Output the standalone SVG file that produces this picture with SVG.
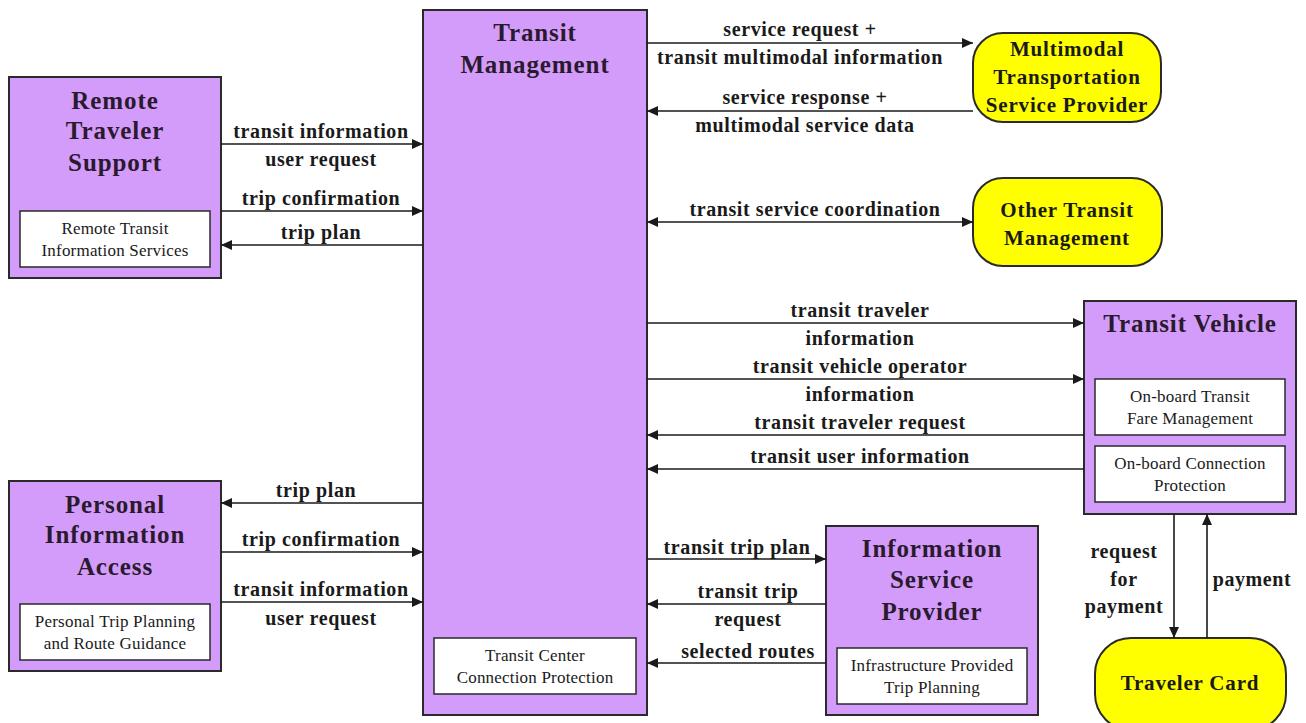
<svg xmlns="http://www.w3.org/2000/svg" width="1306" height="723" viewBox="0 0 1306 723">
<style>
.box{fill:#D49CFA;stroke:#2a2a2a;stroke-width:2}
.ext{fill:#FFFF00;stroke:#2a2a2a;stroke-width:2}
.inner{fill:#ffffff;stroke:#2a2a2a;stroke-width:1.5}
.title{font-family:"Liberation Serif",serif;font-weight:bold;font-size:25px;letter-spacing:0.9px;fill:#2a1a2e;text-anchor:middle}
.etitle{font-family:"Liberation Serif",serif;font-weight:bold;font-size:21px;letter-spacing:0.8px;fill:#1a1a1a;text-anchor:middle}
.sub{font-family:"Liberation Serif",serif;font-size:17px;letter-spacing:0.2px;fill:#1a1a1a;text-anchor:middle}
.lbl{font-family:"Liberation Serif",serif;font-weight:bold;font-size:20px;letter-spacing:0.6px;fill:#1a1a1a;text-anchor:middle}
.c line{stroke:#1a1a1a;stroke-width:1.6}
</style>
<defs>
<marker id="ah" markerUnits="userSpaceOnUse" markerWidth="12" markerHeight="10" refX="11" refY="5" orient="auto-start-reverse">
<path d="M0,0 L11,5 L0,10 Z" fill="#1a1a1a"/>
</marker>
</defs>
<rect width="1306" height="723" fill="#ffffff"/>

<g id="transit-management">
<rect class="box" x="423" y="10" width="224" height="705"/>
<text class="title" x="535" y="41">Transit</text>
<text class="title" x="535" y="73">Management</text>
<rect class="inner" x="434" y="638" width="202" height="56"/>
<text class="sub" x="535" y="661">Transit Center</text>
<text class="sub" x="535" y="683">Connection Protection</text>
</g>

<g id="remote-traveler-support">
<rect class="box" x="9" y="77" width="212" height="201"/>
<text class="title" x="115" y="109">Remote</text>
<text class="title" x="115" y="139">Traveler</text>
<text class="title" x="115" y="171">Support</text>
<rect class="inner" x="20" y="211" width="190" height="56"/>
<text class="sub" x="115" y="234">Remote Transit</text>
<text class="sub" x="115" y="256">Information Services</text>
</g>

<g id="personal-information-access">
<rect class="box" x="9" y="481" width="212" height="190"/>
<text class="title" x="115" y="513">Personal</text>
<text class="title" x="115" y="543">Information</text>
<text class="title" x="115" y="575">Access</text>
<rect class="inner" x="20" y="604" width="190" height="56"/>
<text class="sub" x="115" y="627">Personal Trip  Planning</text>
<text class="sub" x="115" y="649">and Route Guidance</text>
</g>

<g id="multimodal-transportation-service-provider">
<rect class="ext" x="973" y="33" width="188" height="89" rx="30" ry="30"/>
<text class="etitle" x="1067" y="56">Multimodal</text>
<text class="etitle" x="1067" y="84">Transportation</text>
<text class="etitle" x="1067" y="112">Service Provider</text>
</g>

<g id="other-transit-management">
<rect class="ext" x="973" y="178" width="189" height="88" rx="30" ry="30"/>
<text class="etitle" x="1067" y="217">Other Transit</text>
<text class="etitle" x="1067" y="245">Management</text>
</g>

<g id="transit-vehicle">
<rect class="box" x="1084" y="301" width="212" height="213"/>
<text class="title" x="1190" y="332">Transit Vehicle</text>
<rect class="inner" x="1095" y="379" width="190" height="56"/>
<text class="sub" x="1190" y="402">On-board Transit</text>
<text class="sub" x="1190" y="424">Fare Management</text>
<rect class="inner" x="1095" y="446" width="190" height="56"/>
<text class="sub" x="1190" y="469">On-board Connection</text>
<text class="sub" x="1190" y="491">Protection</text>
</g>

<g id="information-service-provider">
<rect class="box" x="826" y="526" width="212" height="189"/>
<text class="title" x="932" y="557">Information</text>
<text class="title" x="932" y="588">Service</text>
<text class="title" x="932" y="620">Provider</text>
<rect class="inner" x="837" y="648" width="190" height="56"/>
<text class="sub" x="932" y="671">Infrastructure Provided</text>
<text class="sub" x="932" y="693">Trip Planning</text>
</g>

<g id="traveler-card">
<rect class="ext" x="1095" y="638" width="191" height="92" rx="36" ry="36"/>
<text class="etitle" x="1190" y="690">Traveler Card</text>
</g>

<g id="connectors" class="c">
<line x1="221" y1="144" x2="423" y2="144" marker-end="url(#ah)"/>
<line x1="221" y1="211" x2="423" y2="211" marker-end="url(#ah)"/>
<line x1="423" y1="245" x2="221" y2="245" marker-end="url(#ah)"/>
<line x1="423" y1="503" x2="221" y2="503" marker-end="url(#ah)"/>
<line x1="221" y1="552" x2="423" y2="552" marker-end="url(#ah)"/>
<line x1="221" y1="602" x2="423" y2="602" marker-end="url(#ah)"/>
<line x1="647" y1="43" x2="973" y2="43" marker-end="url(#ah)"/>
<line x1="973" y1="111" x2="647" y2="111" marker-end="url(#ah)"/>
<line x1="647" y1="222" x2="973" y2="222" marker-start="url(#ah)" marker-end="url(#ah)"/>
<line x1="647" y1="323" x2="1084" y2="323" marker-end="url(#ah)"/>
<line x1="647" y1="379" x2="1084" y2="379" marker-end="url(#ah)"/>
<line x1="1084" y1="435" x2="647" y2="435" marker-end="url(#ah)"/>
<line x1="1084" y1="469" x2="647" y2="469" marker-end="url(#ah)"/>
<line x1="647" y1="559" x2="826" y2="559" marker-end="url(#ah)"/>
<line x1="826" y1="604" x2="647" y2="604" marker-end="url(#ah)"/>
<line x1="826" y1="663" x2="647" y2="663" marker-end="url(#ah)"/>
<line x1="1174" y1="514" x2="1174" y2="638" marker-end="url(#ah)"/>
<line x1="1207" y1="638" x2="1207" y2="514" marker-end="url(#ah)"/>

<text class="lbl" x="321" y="138">transit information</text>
<text class="lbl" x="321" y="166">user request</text>
<text class="lbl" x="321" y="205">trip confirmation</text>
<text class="lbl" x="321" y="239">trip plan</text>
<text class="lbl" x="316" y="497">trip plan</text>
<text class="lbl" x="321" y="546">trip confirmation</text>
<text class="lbl" x="321" y="596">transit information</text>
<text class="lbl" x="321" y="625">user request</text>
<text class="lbl" x="800" y="36">service request +</text>
<text class="lbl" x="800" y="64">transit multimodal information</text>
<text class="lbl" x="805" y="104">service response +</text>
<text class="lbl" x="805" y="132">multimodal service data</text>
<text class="lbl" x="815" y="216">transit service coordination</text>
<text class="lbl" x="860" y="317">transit traveler</text>
<text class="lbl" x="860" y="345">information</text>
<text class="lbl" x="860" y="373">transit vehicle operator</text>
<text class="lbl" x="860" y="401">information</text>
<text class="lbl" x="860" y="429">transit traveler request</text>
<text class="lbl" x="860" y="463">transit user information</text>
<text class="lbl" x="737" y="554">transit trip plan</text>
<text class="lbl" x="748" y="598">transit trip</text>
<text class="lbl" x="748" y="626">request</text>
<text class="lbl" x="748" y="658">selected routes</text>
<text class="lbl" x="1124" y="558">request</text>
<text class="lbl" x="1124" y="586">for</text>
<text class="lbl" x="1124" y="613">payment</text>
<text class="lbl" x="1252" y="586">payment</text>
</g>
</svg>
